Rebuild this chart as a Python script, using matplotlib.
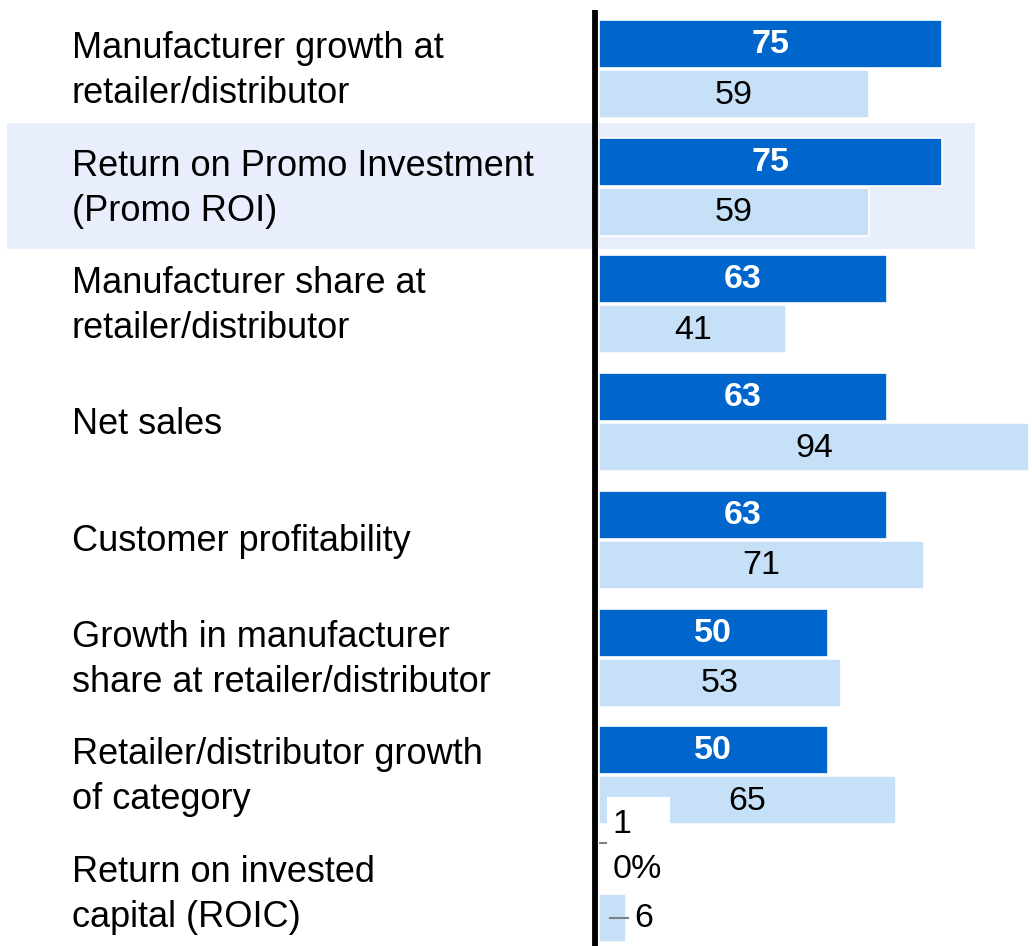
import matplotlib
matplotlib.use("Agg")
import matplotlib.pyplot as plt
from matplotlib.patches import Rectangle

plt.rcParams['font.family'] = ['Liberation Sans', 'DejaVu Sans']

categories = [
    ["Manufacturer growth at", "retailer/distributor"],
    ["Return on Promo Investment", "(Promo ROI)"],
    ["Manufacturer share at", "retailer/distributor"],
    ["Net sales"],
    ["Customer profitability"],
    ["Growth in manufacturer", "share at retailer/distributor"],
    ["Retailer/distributor growth", "of category"],
    ["Return on invested", "capital (ROIC)"],
]
series_dark = [75, 75, 63, 63, 63, 50, 50, 0]
series_light = [59, 59, 41, 94, 71, 53, 65, 6]
dark_labels = ["75", "75", "63", "63", "63", "50", "50", "0%"]
light_labels = ["59", "59", "41", "94", "71", "53", "65", "6"]
highlight_row = 1

DARK = "#0066CC"
LIGHT = "#C6E0F8"
BAND = "#E8EEFC"

W, H = 1032, 946
fig = plt.figure(figsize=(W / 100, H / 100), dpi=100)

# Background layer in pixel coordinates: band, row labels, axis line
bg = fig.add_axes([0, 0, 1, 1])
bg.set_xlim(0, W)
bg.set_ylim(H, 0)
bg.axis("off")

pitch = 117.7
first_center = 68.0
fs_cat = 26
fs_val = 24.5

for i, lines in enumerate(categories):
    c = first_center + i * pitch
    if i == highlight_row:
        bg.add_patch(Rectangle((7, c - 63), 968, 126, facecolor=BAND,
                               edgecolor="none", zorder=0))
    n = len(lines)
    for j, line in enumerate(lines):
        yc = c + (j - (n - 1) / 2) * 45
        bg.text(72, yc + 12.5, line, fontsize=fs_cat, ha="left",
                va="baseline", color="black", zorder=3)

# vertical axis line
bg.plot([595, 595], [10, H], color="black", lw=4.2, solid_capstyle="butt",
        zorder=4)

# Bar layer
x0 = 599
scale = 4.573
ax = fig.add_axes([x0 / W, 0, (W - x0) / W, 1])
ax.set_xlim(0, (W - x0) / scale)
ax.set_ylim(H, 0)
ax.axis("off")
ax.patch.set_alpha(0)

centers_dark = [first_center - 24 + i * pitch for i in range(len(categories))]
centers_light = [c + 50 for c in centers_dark]

ax.barh(centers_dark, series_dark, height=48, left=0, color=DARK,
        edgecolor="white", linewidth=1.2, zorder=2)
ax.barh(centers_light, series_light, height=48, left=0, color=LIGHT,
        edgecolor="white", linewidth=1.2, zorder=2)

for i in range(len(categories)):
    if series_dark[i] >= 10:
        ax.text(series_dark[i] / 2, centers_dark[i] + 0.5, dark_labels[i],
                fontsize=fs_val, fontweight="bold", color="white",
                ha="center", va="center", zorder=5)
    if series_light[i] >= 10:
        ax.text(series_light[i] / 2, centers_light[i] + 1, light_labels[i],
                fontsize=fs_val, color="black", ha="center", va="center",
                zorder=5)

# Small values in the last row get outside labels with leader lines
last = len(categories) - 1
ax.add_patch(Rectangle((1.8, 797), 13.8, 46, facecolor="white",
                       edgecolor="none", zorder=4))
ax.text(2.9, 824, "1", fontsize=fs_val, color="black", ha="left",
        va="center", zorder=5)
ax.plot([0.2, 1.5], [843, 843], color="#808080", lw=1.5, zorder=5)
ax.text(2.9, centers_dark[last] + 2, dark_labels[last], fontsize=fs_val,
        color="black", ha="left", va="center", zorder=5)
ax.plot([2.4, 6.4], [centers_light[last], centers_light[last]],
        color="#808080", lw=1.5, zorder=5)
ax.text(7.8, centers_light[last] + 1, light_labels[last], fontsize=fs_val,
        color="black", ha="left", va="center", zorder=5)

fig.savefig("out.png", dpi=100)
